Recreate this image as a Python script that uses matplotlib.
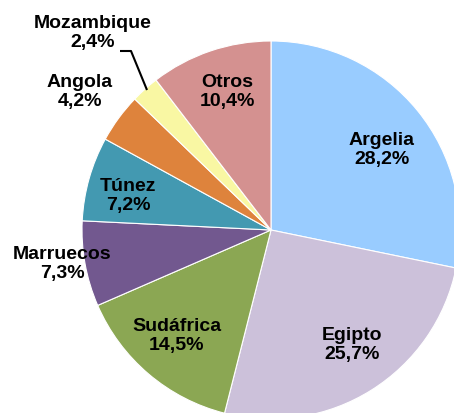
import matplotlib
matplotlib.use("Agg")
import matplotlib.pyplot as plt

countries = ["Argelia", "Egipto", "Sudáfrica", "Marruecos", "Túnez", "Angola", "Mozambique", "Otros"]
shares = [28.2, 25.7, 14.5, 7.3, 7.2, 4.2, 2.4, 10.4]
colors = ["#99CCFF", "#CCC1DA", "#8BA753", "#72588F", "#4399B1", "#DE833C", "#F9F7A3", "#D49190"]

W, H = 454, 413
fig = plt.figure(figsize=(W / 100, H / 100), dpi=100)
ax = fig.add_axes([0, 0, 1, 1])

cx, cy, r = 271, H - 230, 189
ax.pie(shares, colors=colors, startangle=90, counterclock=False,
       center=(cx, cy), radius=r, frame=True,
       wedgeprops=dict(edgecolor="white", linewidth=0.8))
ax.set_xlim(0, W)
ax.set_ylim(0, H)
ax.set_aspect("equal")
ax.axis("off")

label_pos = {
    "Argelia": (382, 150),
    "Egipto": (352, 345),
    "Sudáfrica": (177, 336),
    "Marruecos": (62, 264),
    "Túnez": (128, 196),
    "Angola": (80, 92),
    "Mozambique": (93, 33),
    "Otros": (227, 92),
}
for name, val in zip(countries, shares):
    x, y = label_pos[name]
    txt = f"{name}\n{val:.1f}%".replace(".", ",")
    ax.text(x, H - y, txt, ha="center", va="center", fontsize=14,
            fontweight="bold", family="Liberation Sans", linespacing=1.2,
            color="black")

# leader line for Mozambique
ax.plot([120, 131, 147], [H - 51, H - 51, H - 90], color="black", lw=1.5,
        solid_capstyle="butt")

fig.savefig("out.png", dpi=100)
